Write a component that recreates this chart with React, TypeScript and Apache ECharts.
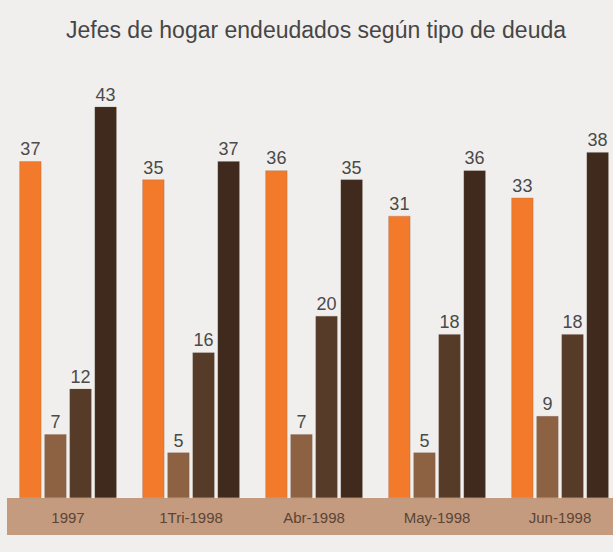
import React, { useEffect, useRef } from "react";
import * as echarts from "echarts";

const categories = ["1997", "1Tri-1998", "Abr-1998", "May-1998", "Jun-1998"];
const seriesA = [37, 35, 36, 31, 33];
const seriesB = [7, 5, 7, 5, 9];
const seriesC = [12, 16, 20, 18, 18];
const seriesD = [43, 37, 35, 36, 38];
const colors = ["#f27a2a", "#8d6243", "#563b29", "#3f2a1d"];

export default function App() {
  const ref = useRef<HTMLDivElement>(null);
  useEffect(() => {
    if (!ref.current) return;
    const chart = echarts.init(ref.current, null, { renderer: "svg" });
    const font = "'Liberation Sans', Arial, sans-serif";
    const mk = (name: string, data: number[], i: number) => ({
      name,
      type: "bar",
      data,
      barWidth: 22,
      barGap: "14%",
      itemStyle: { color: colors[i], borderColor: "rgba(120,100,90,0.5)", borderWidth: 0.5 },
      label: {
        show: true,
        position: "top",
        distance: 3,
        color: "#4a4a4a",
        fontSize: 18,
        fontFamily: font,
      },
      z: 3,
    });
    chart.setOption({
      animation: false,
      backgroundColor: "#f1efed",
      title: {
        text: "Jefes de hogar endeudados según tipo de deuda",
        left: 311,
        textAlign: "center",
        top: 13,
        textStyle: { color: "#464646", fontSize: 23, fontWeight: "normal", fontFamily: font },
      },
      graphic: [
        {
          type: "rect",
          shape: { x: 7, y: 498, width: 606, height: 37 },
          style: { fill: "#c49b7e" },
          z: 1,
        },
      ],
      grid: { left: 6.5, width: 615, top: 43, bottom: 54, outerBoundsMode: "none", containLabel: false },
      xAxis: {
        type: "category",
        data: categories,
        axisLine: { show: false },
        axisTick: { show: false },
        axisLabel: { color: "#5a4536", fontSize: 15, margin: 12, fontFamily: font },
        z: 5,
      },
      yAxis: {
        type: "value",
        min: 0,
        max: 50,
        show: false,
        splitLine: { show: false },
      },
      series: [
        mk("A", seriesA, 0),
        mk("B", seriesB, 1),
        mk("C", seriesC, 2),
        mk("D", seriesD, 3),
      ],
    });
    return () => chart.dispose();
  }, []);
  return (
    <div
      ref={ref}
      style={{ position: "fixed", left: 0, top: 0, width: 613, height: 552 }}
    />
  );
}
